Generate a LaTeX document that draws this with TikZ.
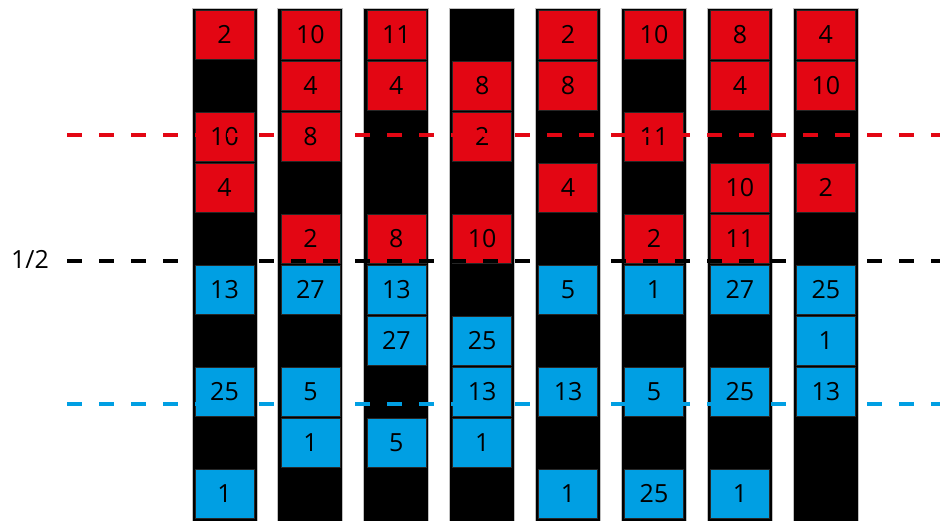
\documentclass[tikz,border=0pt]{standalone}
\usepackage{fontspec}
\setmainfont{Open Sans}
\definecolor{myred}{RGB}{227,6,19}
\definecolor{myblue}{RGB}{0,159,227}
\begin{document}
\begin{tikzpicture}[x=1pt,y=-1pt,
  colbar/.style={fill=black,draw=black!25,line width=1pt,minimum width=65pt,minimum height=516pt,inner sep=0pt,anchor=north},
  cell/.style={minimum width=59pt,minimum height=49pt,inner sep=0pt,draw=black!85,line width=0.6pt,font=\fontsize{25}{25}\selectfont},
  level/.style={line width=4pt,dash pattern=on 15pt off 17pt},
  lbl/.style={font=\fontsize{25}{25}\selectfont,inner sep=0pt}]
\useasboundingbox (0,0) rectangle (940,520);
\foreach \c in {1,...,8}
  \node[colbar] (col\c) at ({224.5+85.9*(\c-1)},8) {};
\foreach \c/\r/\v/\k in {
  1/1/2/myred, 1/3/10/myred, 1/4/4/myred, 1/6/13/myblue, 1/8/25/myblue, 1/10/1/myblue,
  2/1/10/myred, 2/2/4/myred, 2/3/8/myred, 2/5/2/myred, 2/6/27/myblue, 2/8/5/myblue, 2/9/1/myblue,
  3/1/11/myred, 3/2/4/myred, 3/5/8/myred, 3/6/13/myblue, 3/7/27/myblue, 3/9/5/myblue,
  4/2/8/myred, 4/3/2/myred, 4/5/10/myred, 4/7/25/myblue, 4/8/13/myblue, 4/9/1/myblue,
  5/1/2/myred, 5/2/8/myred, 5/4/4/myred, 5/6/5/myblue, 5/8/13/myblue, 5/10/1/myblue,
  6/1/10/myred, 6/3/11/myred, 6/5/2/myred, 6/6/1/myblue, 6/8/5/myblue, 6/10/25/myblue,
  7/1/8/myred, 7/2/4/myred, 7/4/10/myred, 7/5/11/myred, 7/6/27/myblue, 7/8/25/myblue, 7/10/1/myblue,
  8/1/4/myred, 8/2/10/myred, 8/4/2/myred, 8/6/25/myblue, 8/7/1/myblue, 8/8/13/myblue}
  \node[cell,fill=\k] (c\c r\r) at ({224.5+85.9*(\c-1)},{34.5+51*(\r-1)}) {\v};
\node[lbl] (half) at (30,259) {1/2};
\coordinate (redL) at (67,135);
\coordinate (redR) at (940,135);
\coordinate (blkL) at (67,261);
\coordinate (blkR) at (940,261);
\coordinate (bluL) at (67,404);
\coordinate (bluR) at (940,404);
\draw[level,myred] (redL) -- (redR);
\draw[level,black] (blkL) -- (blkR);
\draw[level,myblue] (bluL) -- (bluR);
\end{tikzpicture}
\end{document}
